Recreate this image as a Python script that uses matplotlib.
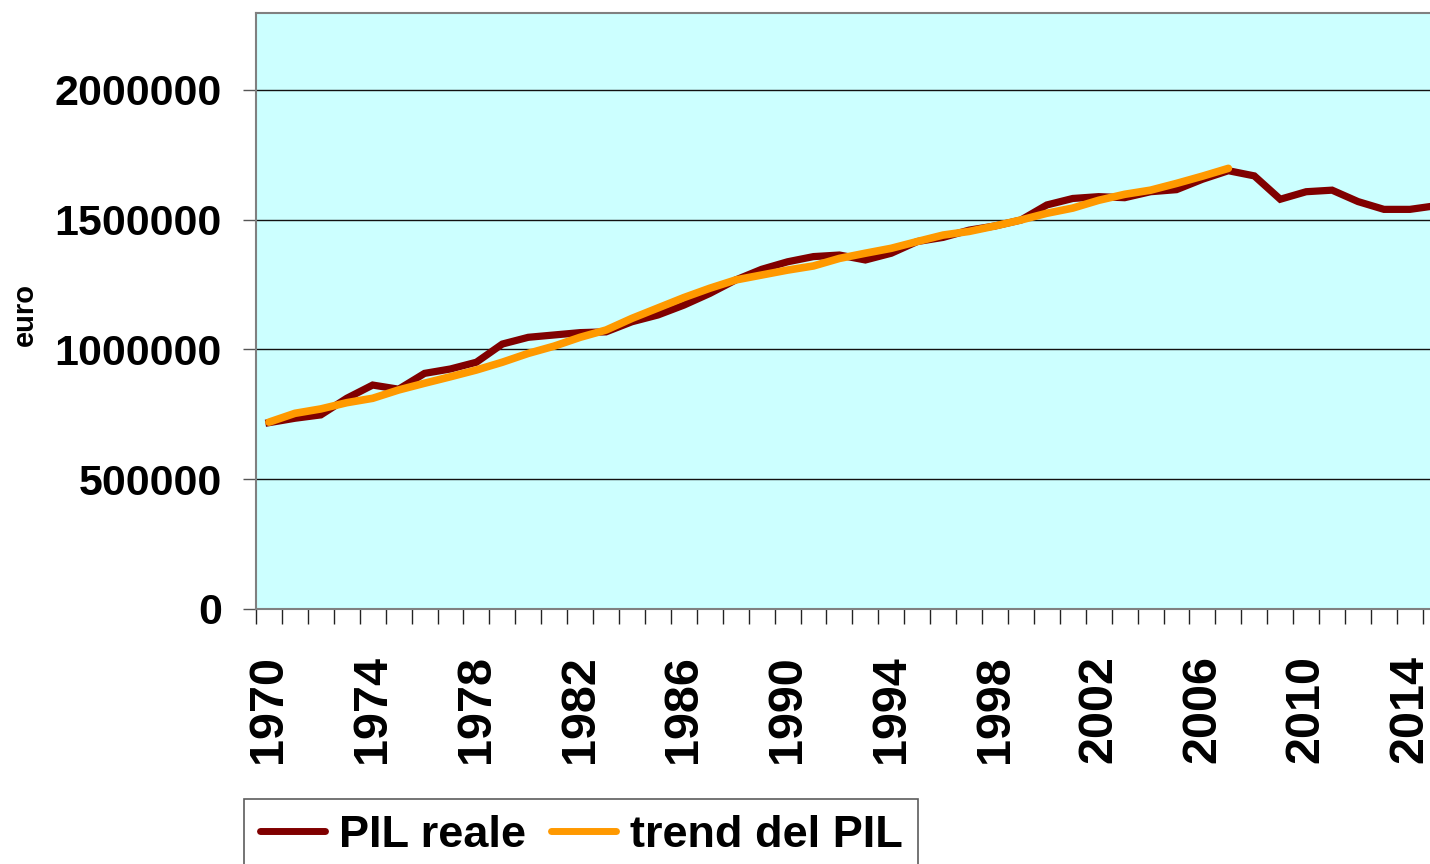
import matplotlib
matplotlib.use("Agg")
import matplotlib.pyplot as plt
from matplotlib.ticker import FixedLocator, NullFormatter

years = list(range(1970, 2016))
pil_reale = [718000, 735000, 748000, 812000, 863000, 847000, 908000, 925000, 951000, 1021000,
             1047000, 1056000, 1065000, 1068000, 1107000, 1133000, 1171000, 1216000, 1268000, 1309000,
             1338000, 1358000, 1364000, 1345000, 1371000, 1416000, 1432000, 1460000, 1476000, 1499000,
             1557000, 1582000, 1589000, 1585000, 1608000, 1616000, 1656000, 1689000, 1669000, 1579000,
             1608000, 1614000, 1570000, 1540000, 1540000, 1554000]
trend_years = list(range(1970, 2008))
trend_pil = [720000, 754000, 771000, 795000, 812000, 844000, 870000, 895000, 921000, 951000,
             985000, 1013000, 1047000, 1075000, 1120000, 1160000, 1200000, 1236000, 1268000, 1287000,
             1306000, 1322000, 1351000, 1371000, 1390000, 1416000, 1441000, 1455000, 1476000, 1499000,
             1525000, 1545000, 1575000, 1598000, 1614000, 1640000, 1668000, 1698000]
y_ticks = [0, 500000, 1000000, 1500000, 2000000]
label_years = years[::4]

W, H = 1430, 864
fig = plt.figure(figsize=(W / 100, H / 100), dpi=100)
ax = fig.add_axes([256 / W, 1 - 609 / H, 1 - 256 / W, (609 - 13) / H])
ax.set_facecolor("#CCFFFF")

xr = [y - years[0] for y in years]
xt = [y - years[0] for y in trend_years]
ax.plot(xr, pil_reale, color="#800000", lw=5.2, solid_joinstyle="miter", label="PIL reale", zorder=3)
ax.plot(xt, trend_pil, color="#FF9900", lw=5.5, solid_capstyle="round", label="trend del PIL", zorder=4)

ax.set_xlim(-0.5, -0.5 + (1430 - 256) / 25.93)
ax.set_ylim(0, 2296700)

for v in y_ticks[1:]:
    ax.axhline(v, color="#111111", lw=1, zorder=1)

ax.set_yticks(y_ticks)
ax.set_yticklabels([str(v) for v in y_ticks], fontfamily="Liberation Sans", fontweight="bold", fontsize=31)
ax.tick_params(axis="y", length=9.5, width=1, color="#555555", pad=15)

ax.set_xticks([y - years[0] for y in label_years])
ax.set_xticklabels([str(y) for y in label_years], rotation=90, va="top", ha="center",
                   fontfamily="Liberation Sans", fontweight="bold", fontsize=35)
ax.tick_params(axis="x", which="major", length=0, pad=33)
ax.xaxis.set_minor_locator(FixedLocator([i - 0.5 for i in range(len(years) + 1)]))
ax.xaxis.set_minor_formatter(NullFormatter())
ax.tick_params(axis="x", which="minor", length=11, width=1, color="#222222")

for s in ["left", "bottom", "top"]:
    ax.spines[s].set_color("#808080")
    ax.spines[s].set_linewidth(1.5)
ax.spines["right"].set_visible(False)

fig.text(25 / W, 1 - 314 / H, "euro", rotation=90, ha="center", va="center",
         fontfamily="Liberation Sans", fontweight="bold", fontsize=21)

leg = fig.legend(loc="upper left", bbox_to_anchor=(244 / W, 1 - 799 / H), ncol=2,
                 prop={"family": "Liberation Sans", "weight": "bold", "size": 32.5},
                 frameon=True, fancybox=False, edgecolor="#333333", handlelength=1.45,
                 handletextpad=0.3, columnspacing=0.55, borderpad=0.35, borderaxespad=0)
leg.get_frame().set_linewidth(1.2)
for line in leg.get_lines():
    line.set_solid_capstyle("round")
    line.set_linewidth(5)

fig.savefig("out.png", dpi=100)
